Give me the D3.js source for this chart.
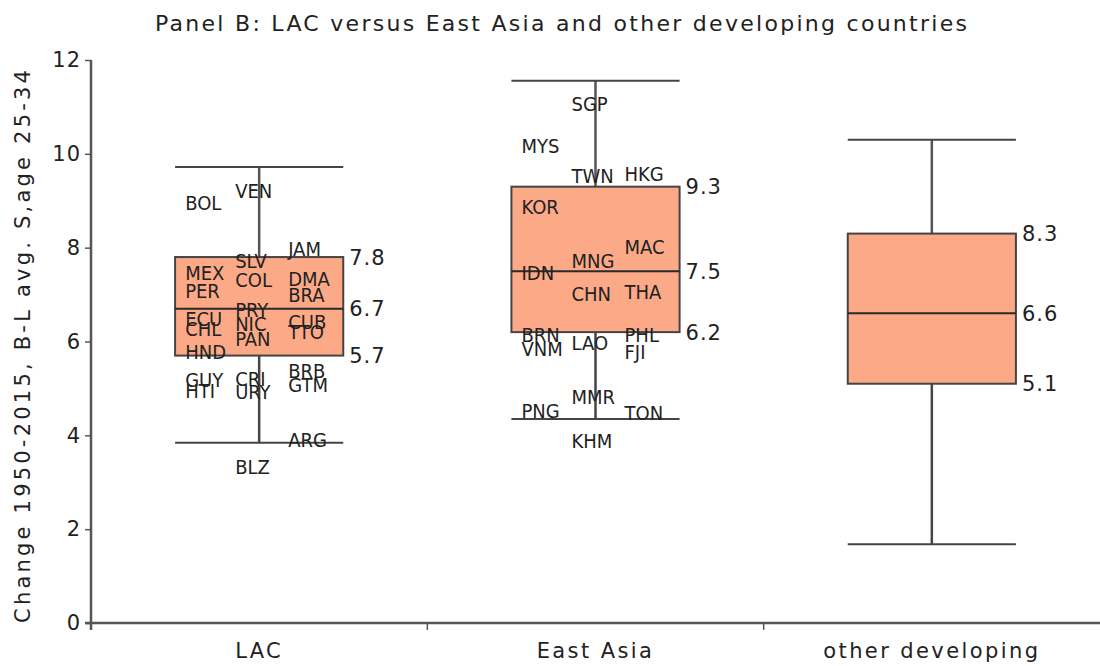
<!DOCTYPE html>
<html>
<head>
<meta charset="utf-8">
<script src="https://cdn.jsdelivr.net/npm/d3@7"></script>
<style>
  html, body { margin: 0; padding: 0; background: #fff; }
  svg { display: block; }
  text { font-family: "DejaVu Sans", Verdana, sans-serif; fill: #222; }
  .code { font-family: "DejaVu Sans Condensed", "DejaVu Sans", sans-serif; }
</style>
</head>
<body>
<svg id="chart" width="1100" height="666"></svg>
<script>
// Box summaries per region group
const groups      = ["LAC", "East Asia", "other developing"];
const whiskerLow  = [3.84, 4.35, 1.68];
const q1          = [5.7, 6.2, 5.1];
const median      = [6.7, 7.5, 6.6];
const q3          = [7.8, 9.3, 8.3];
const whiskerHigh = [9.72, 11.56, 10.3];

// Country marker labels: code, group, value and label slot (0 left, 1 middle, 2 right)
const countryCodes = [
  "BOL","VEN","JAM","SLV","MEX","COL","DMA","PER","BRA","PRY","ECU","CHL","NIC","PAN",
  "CUB","TTO","HND","BRB","GUY","HTI","CRI","URY","GTM","ARG","BLZ",
  "SGP","MYS","TWN","HKG","KOR","MAC","MNG","IDN","CHN","THA","BRN","VNM","LAO","PHL",
  "FJI","MMR","PNG","TON","KHM"
];
const countryGroup = [
  "LAC","LAC","LAC","LAC","LAC","LAC","LAC","LAC","LAC","LAC","LAC","LAC","LAC","LAC",
  "LAC","LAC","LAC","LAC","LAC","LAC","LAC","LAC","LAC","LAC","LAC",
  "East Asia","East Asia","East Asia","East Asia","East Asia","East Asia","East Asia",
  "East Asia","East Asia","East Asia","East Asia","East Asia","East Asia","East Asia",
  "East Asia","East Asia","East Asia","East Asia","East Asia"
];
const countryValue = [
  8.96, 9.21, 7.97, 7.72, 7.46, 7.31, 7.33, 7.08, 6.99, 6.67, 6.48, 6.27, 6.37, 6.05,
  6.42, 6.20, 5.78, 5.37, 5.18, 4.94, 5.20, 4.92, 5.07, 3.90, 3.32,
  11.06, 10.17, 9.53, 9.57, 8.87, 8.02, 7.72, 7.47, 7.01, 7.05, 6.14, 5.84, 5.98, 6.14,
  5.77, 4.82, 4.52, 4.47, 3.89
];
const countrySlot = [
  0, 1, 2, 1, 0, 1, 2, 0, 2, 1, 0, 0, 1, 1,
  2, 2, 0, 2, 0, 0, 1, 1, 2, 2, 1,
  1, 0, 1, 2, 0, 2, 1, 0, 1, 2, 0, 0, 1, 2,
  2, 1, 0, 2, 1
];

const yTicks = [0, 2, 4, 6, 8, 10, 12];

const svg = d3.select("#chart");
const fmt = d3.format(".1f");

const x = d3.scaleBand().domain(groups).range([91, 1100]).padding(0);
const y = d3.scaleLinear().domain([0, 12]).range([623, 60]);
const boxW = x.bandwidth() * 0.5;
const slotX = d3.scaleOrdinal().domain([0, 1, 2]).range([-74, -24, 29]);

const boxes = groups.map((g, i) => ({
  g, lo: whiskerLow[i], q1: q1[i], med: median[i], q3: q3[i], hi: whiskerHigh[i]
}));

// Title
svg.append("text")
  .attr("x", 561).attr("y", 31)
  .attr("text-anchor", "middle")
  .attr("textLength", 812).attr("lengthAdjust", "spacing")
  .style("font-size", "22px")
  .text("Panel B: LAC versus East Asia and other developing countries");

// Y axis
const yAxis = svg.append("g")
  .attr("transform", "translate(91,0)")
  .call(d3.axisLeft(y).tickValues(yTicks).tickSize(6).tickPadding(4).tickFormat(d3.format("d")));
yAxis.select(".domain").remove();
yAxis.selectAll(".tick line").attr("stroke", "#555").attr("stroke-width", 1.5);
yAxis.selectAll(".tick text")
  .style("font-size", "21px").style("letter-spacing", "1px")
  .attr("fill", "#222").attr("font-family", null);
svg.append("line")
  .attr("x1", 91).attr("x2", 91).attr("y1", y(12)).attr("y2", y(0) + 7)
  .attr("stroke", "#555").attr("stroke-width", 2.5);

// Y axis title
svg.append("text")
  .attr("transform", `translate(30,${(y(0) + y(12)) / 2 + 5}) rotate(-90)`)
  .attr("text-anchor", "middle")
  .attr("textLength", 553).attr("lengthAdjust", "spacing")
  .style("font-size", "21px")
  .text("Change 1950-2015, B-L avg. S,age 25-34");

// X axis
svg.append("line")
  .attr("x1", 85).attr("x2", 1100).attr("y1", y(0)).attr("y2", y(0))
  .attr("stroke", "#555").attr("stroke-width", 2.5);
svg.selectAll(".xtick").data(groups.slice(1)).join("line")
  .attr("class", "xtick")
  .attr("x1", d => x(d)).attr("x2", d => x(d))
  .attr("y1", y(0)).attr("y2", y(0) + 7)
  .attr("stroke", "#555").attr("stroke-width", 1.5);
svg.selectAll(".xlab").data(groups).join("text")
  .attr("class", "xlab")
  .attr("x", d => x(d) + x.bandwidth() / 2)
  .attr("y", 658)
  .attr("text-anchor", "middle")
  .style("font-size", "21px").style("letter-spacing", "2.4px")
  .text(d => d);

// Boxes
const bx = svg.append("g");
const cx = d => x(d.g) + x.bandwidth() / 2;

bx.selectAll(".whisker-up").data(boxes).join("line")
  .attr("x1", cx).attr("x2", cx).attr("y1", d => y(d.q3)).attr("y2", d => y(d.hi))
  .attr("stroke", "#555").attr("stroke-width", 2.5);
bx.selectAll(".whisker-dn").data(boxes).join("line")
  .attr("x1", cx).attr("x2", cx).attr("y1", d => y(d.q1)).attr("y2", d => y(d.lo))
  .attr("stroke", "#444").attr("stroke-width", 2.5);
bx.selectAll(".cap-hi").data(boxes).join("line")
  .attr("x1", d => cx(d) - boxW / 2).attr("x2", d => cx(d) + boxW / 2)
  .attr("y1", d => y(d.hi)).attr("y2", d => y(d.hi))
  .attr("stroke", "#444").attr("stroke-width", 2);
bx.selectAll(".cap-lo").data(boxes).join("line")
  .attr("x1", d => cx(d) - boxW / 2).attr("x2", d => cx(d) + boxW / 2)
  .attr("y1", d => y(d.lo)).attr("y2", d => y(d.lo))
  .attr("stroke", "#444").attr("stroke-width", 2);
bx.selectAll(".box").data(boxes).join("rect")
  .attr("x", d => cx(d) - boxW / 2).attr("width", boxW)
  .attr("y", d => y(d.q3)).attr("height", d => y(d.q1) - y(d.q3))
  .attr("fill", "#fba987").attr("stroke", "#444").attr("stroke-width", 2);
bx.selectAll(".med").data(boxes).join("line")
  .attr("x1", d => cx(d) - boxW / 2).attr("x2", d => cx(d) + boxW / 2)
  .attr("y1", d => y(d.med)).attr("y2", d => y(d.med))
  .attr("stroke", "#2a2a2a").attr("stroke-width", 2);

// Quartile and median value labels
const valueLabels = [];
boxes.forEach(d => {
  ["q3", "med", "q1"].forEach(k => valueLabels.push({ g: d.g, v: d[k], base: d }));
});
svg.selectAll(".vlab").data(valueLabels).join("text")
  .attr("class", "vlab")
  .attr("x", d => cx(d.base) + boxW / 2 + 6)
  .attr("y", d => y(d.v))
  .attr("dy", "0.36em")
  .style("font-size", "21px").style("letter-spacing", "1px")
  .text(d => fmt(d.v));

// Country labels
const countries = countryCodes.map((c, i) => ({
  c, g: countryGroup[i], v: countryValue[i], s: countrySlot[i]
}));
svg.selectAll(".code").data(countries).join("text")
  .attr("class", "code")
  .attr("x", d => x(d.g) + x.bandwidth() / 2 + slotX(d.s))
  .attr("y", d => y(d.v))
  .attr("dy", "0.36em")
  .style("font-size", "20px")
  .text(d => d.c);
</script>
</body>
</html>
